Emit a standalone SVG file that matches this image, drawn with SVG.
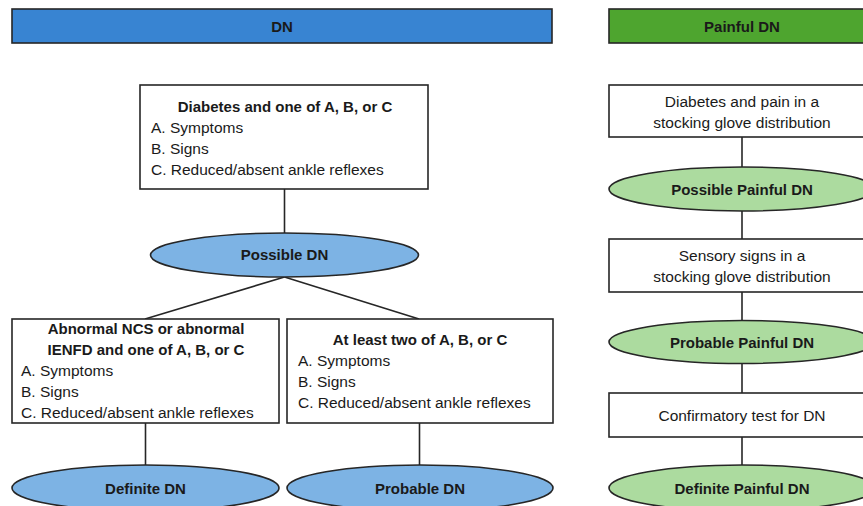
<svg xmlns="http://www.w3.org/2000/svg" width="863" height="506" viewBox="0 0 863 506">
<style>
text{font-family:"Liberation Sans",Arial,sans-serif;fill:#1a1a1a}
.r{font-size:15.5px}
.b{font-size:15px;font-weight:bold}
.c{text-anchor:middle}
.box{fill:#fff;stroke:#262626;stroke-width:1.6}
.bar1{fill:#3884d2;stroke:#262626;stroke-width:1.6}
.bar2{fill:#4ea52f;stroke:#262626;stroke-width:1.6}
.eb{fill:#7db3e4;stroke:#262626;stroke-width:1.6}
.eg{fill:#acdb9f;stroke:#262626;stroke-width:1.6}
.ln{stroke:#262626;stroke-width:1.6;fill:none}
</style>
<rect width="863" height="506" fill="#fff"/>
<g id="connectors">
<line class="ln" x1="284.5" y1="189" x2="284.5" y2="233"/>
<line class="ln" x1="284.5" y1="277" x2="145" y2="319"/>
<line class="ln" x1="284.5" y1="277" x2="419" y2="319"/>
<line class="ln" x1="145.5" y1="423" x2="145.5" y2="465"/>
<line class="ln" x1="419.5" y1="423" x2="419.5" y2="465"/>
<line class="ln" x1="742" y1="137" x2="742" y2="167"/>
<line class="ln" x1="742" y1="211" x2="742" y2="239"/>
<line class="ln" x1="742" y1="292" x2="742" y2="320"/>
<line class="ln" x1="742" y1="363" x2="742" y2="393"/>
<line class="ln" x1="742" y1="437" x2="742" y2="465"/>
</g>
<g id="header-dn">
<rect class="bar1" x="12" y="9" width="540" height="34"/>
<text class="b c" x="282" y="32">DN</text>
</g>
<g id="header-painful">
<rect class="bar2" x="609" y="9" width="270" height="34"/>
<text class="b c" x="742" y="32">Painful DN</text>
</g>
<g id="diabetes">
<rect class="box" x="140" y="85" width="288" height="104"/>
<text class="b c" x="285" y="112">Diabetes and one of A, B, or C</text>
<text class="r" x="151" y="133">A. Symptoms</text>
<text class="r" x="151" y="154">B. Signs</text>
<text class="r" x="151" y="175">C. Reduced/absent ankle reflexes</text>
</g>
<g id="possible-dn">
<ellipse class="eb" cx="284.5" cy="255" rx="134" ry="22"/>
<text class="b c" x="284.5" y="260">Possible DN</text>
</g>
<g id="abnormal">
<rect class="box" x="12" y="319" width="267" height="104"/>
<text class="b c" x="146" y="334">Abnormal NCS or abnormal</text>
<text class="b c" x="146" y="355">IENFD and one of A, B, or C</text>
<text class="r" x="21" y="376">A. Symptoms</text>
<text class="r" x="21" y="397">B. Signs</text>
<text class="r" x="21" y="418">C. Reduced/absent ankle reflexes</text>
</g>
<g id="atleast">
<rect class="box" x="287" y="319" width="266" height="104"/>
<text class="b c" x="420" y="345">At least two of A, B, or C</text>
<text class="r" x="298" y="366">A. Symptoms</text>
<text class="r" x="298" y="387">B. Signs</text>
<text class="r" x="298" y="408">C. Reduced/absent ankle reflexes</text>
</g>
<g id="definite-dn">
<ellipse class="eb" cx="145.5" cy="488" rx="133.5" ry="23"/>
<text class="b c" x="145.5" y="494">Definite DN</text>
</g>
<g id="probable-dn">
<ellipse class="eb" cx="420" cy="488" rx="133" ry="23"/>
<text class="b c" x="420" y="494">Probable DN</text>
</g>
<g id="pain">
<rect class="box" x="609" y="85" width="270" height="52"/>
<text class="r c" x="742" y="107">Diabetes and pain in a</text>
<text class="r c" x="742" y="128">stocking glove distribution</text>
</g>
<g id="possible-painful">
<ellipse class="eg" cx="742" cy="189" rx="133" ry="22"/>
<text class="b c" x="742" y="195">Possible Painful DN</text>
</g>
<g id="sensory">
<rect class="box" x="609" y="239" width="270" height="53"/>
<text class="r c" x="742" y="261">Sensory signs in a</text>
<text class="r c" x="742" y="282">stocking glove distribution</text>
</g>
<g id="probable-painful">
<ellipse class="eg" cx="742" cy="342" rx="133" ry="21.5"/>
<text class="b c" x="742" y="348">Probable Painful DN</text>
</g>
<g id="confirmatory">
<rect class="box" x="609" y="393" width="270" height="44"/>
<text class="r c" x="742" y="421">Confirmatory test for DN</text>
</g>
<g id="definite-painful">
<ellipse class="eg" cx="742" cy="488" rx="133" ry="23"/>
<text class="b c" x="742" y="494">Definite Painful DN</text>
</g>
</svg>
